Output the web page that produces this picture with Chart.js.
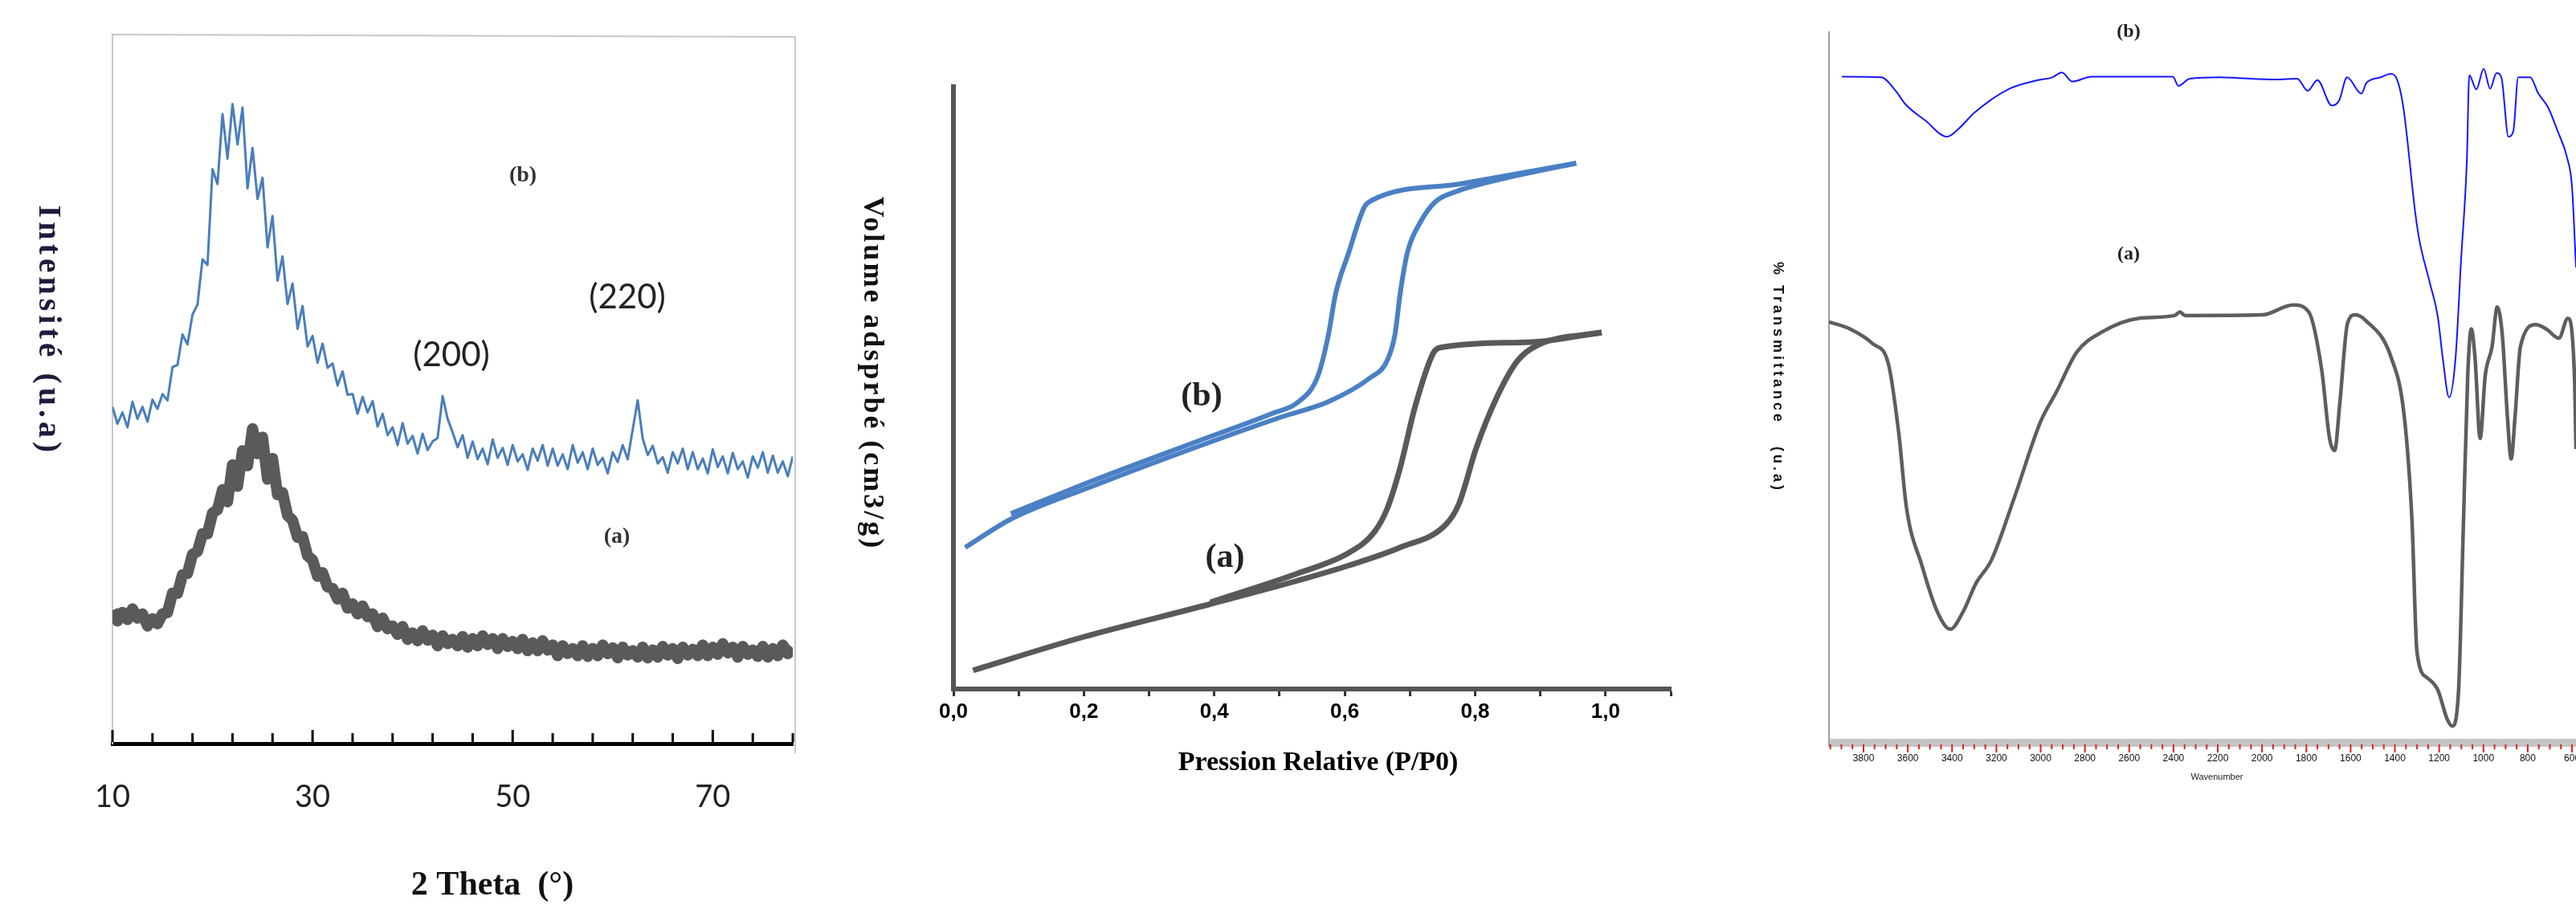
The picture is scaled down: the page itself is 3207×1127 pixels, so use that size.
<!DOCTYPE html>
<html>
<head>
<meta charset="utf-8">
<script src="https://cdn.jsdelivr.net/npm/chart.js@4.4.1/dist/chart.umd.min.js"></script>
<style>
  body { margin: 0; background: #fff; width: 3207px; height: 1127px; overflow: hidden; position: relative; }
  canvas { position: absolute; top: 0; }
</style>
</head>
<body>
<canvas id="xrd" width="1040" height="1127" style="left:0px"></canvas>
<canvas id="bet" width="1100" height="1127" style="left:1040px"></canvas>
<canvas id="ftir" width="1067" height="1127" style="left:2140px"></canvas>
<script>
// ---- XRD (2 theta) ----
const xrdTheta = [10,10.5,11,11.5,12,12.5,13,13.5,14,14.5,15,15.5,16,16.5,17,17.5,18,18.5,19,19.5,
  20,20.5,21,21.5,22,22.5,23,23.5,24,24.5,25,25.5,26,26.5,27,27.5,28,28.5,29,29.5,
  30,30.5,31,31.5,32,32.5,33,33.5,34,34.5,35,35.5,36,36.5,37,37.5,38,38.5,39,39.5,
  40,40.5,41,41.5,42,42.5,43,43.5,44,44.5,45,45.5,46,46.5,47,47.5,48,48.5,49,49.5,
  50,50.5,51,51.5,52,52.5,53,53.5,54,54.5,55,55.5,56,56.5,57,57.5,58,58.5,59,59.5,
  60,60.5,61,61.5,62,62.5,63,63.5,64,64.5,65,65.5,66,66.5,67,67.5,68,68.5,69,69.5,
  70,70.5,71,71.5,72,72.5,73,73.5,74,74.5,75,75.5,76,76.5,77,77.5,78];
const xrdSampleB = [47.5,45.1,46.7,44.6,48.2,45.8,47.5,45.4,48.5,47.2,
  49.3,48.4,53.1,53.4,57.7,56.3,60.5,61.9,68.3,67.5,
  81.0,78.9,88.8,82.5,90.2,84.5,89.7,78.3,84.0,76.8,
  79.8,70.0,74.4,65.3,68.7,62.0,64.9,58.5,61.7,56.0,
  57.5,53.7,56.4,53.0,53.6,50.5,52.5,49.2,49.3,46.5,
  48.9,46.7,48.3,44.7,46.5,43.5,44.6,42.1,45.2,42.3,
  43.4,40.9,43.7,41.4,42.6,43.1,49.0,45.8,43.9,41.8,
  43.5,40.3,42.6,40.1,41.6,39.4,42.9,40.3,41.7,39.3,
  42.1,39.8,40.8,38.6,41.6,39.9,42.1,39.2,41.6,39.2,
  40.8,38.7,42.1,39.6,41.1,38.7,41.6,39.3,40.3,38.1,
  41.1,39.7,42.1,40.1,44.3,48.4,43.0,40.7,42.0,39.5,
  40.4,38.2,41.1,39.5,41.6,38.7,41.1,38.7,40.2,38.1,
  41.5,39.0,40.5,38.1,41.0,38.7,39.8,37.5,40.5,38.9,
  41.1,38.2,40.6,38.2,39.8,37.7,40.5];
const xrdSampleA = [18.8,17.3,18.5,17.5,19.0,17.7,18.3,16.6,17.6,16.9,
  18.3,18.5,21.2,21.2,23.8,24.0,26.7,27.1,29.6,29.6,
  32.5,33.0,35.8,34.1,39.3,36.3,41.3,39.2,44.4,40.9,
  43.2,37.3,40.2,35.1,35.4,32.2,31.5,29.1,29.2,26.5,
  25.9,23.6,24.1,22.1,21.9,20.4,21.2,19.1,19.7,18.3,
  19.4,17.9,18.3,16.5,17.7,16.2,16.6,15.4,16.5,14.7,
  15.6,14.5,15.9,14.6,15.3,13.8,15.2,14.1,14.7,13.8,
  15.1,13.6,14.8,13.8,15.2,14.0,14.8,13.4,14.8,13.7,
  14.4,13.4,14.7,13.1,14.2,13.1,14.5,13.2,13.9,12.4,
  13.8,12.7,13.4,12.4,13.8,12.3,13.4,12.4,13.9,12.7,
  13.5,12.1,13.6,12.5,13.1,12.2,13.6,12.1,13.2,12.2,
  13.7,12.5,13.4,12.0,13.6,12.5,13.3,12.4,13.9,12.4,
  13.6,12.6,14.1,12.8,13.6,12.2,13.7,12.6,13.2,12.3,
  13.7,12.2,13.4,12.4,13.9,12.7,13.5];
const xrdTicks = [10,14,18,22,26,30,34,38,42,46,50,54,58,62,66,70,74,78];
const xrdTickLabels = [10,30,50,70];

// ---- BET isotherms (P/P0, volume) ----
const betAdsP_b = [0.018,0.088,0.214,0.371,0.504,0.575,0.638,0.665,0.677,0.685,0.696,0.716,0.739,0.771,0.841,0.955];
const betAdsV_b = [23.5,28.2,33.7,40.1,45.2,47.7,51.6,54.5,58.8,65.6,72.4,77.5,80.9,82.6,84.7,87.3];
const betDesP_b = [0.088,0.214,0.371,0.490,0.528,0.559,0.575,0.586,0.606,0.630,0.641,0.779,0.955];
const betDesV_b = [29.1,34.6,41.0,45.8,47.6,52.0,58.8,65.6,72.4,80.0,81.1,83.9,87.3];
const betAdsP_a = [0.030,0.198,0.394,0.528,0.606,0.685,0.755,0.775,0.802,0.834,0.865,0.896,0.994];
const betAdsV_a = [3.1,8.6,14.1,18.0,20.5,23.5,27.3,30.7,40.1,48.6,54.5,57.1,59.2];
const betDesP_a = [0.394,0.528,0.606,0.645,0.665,0.685,0.708,0.736,0.747,0.886,0.994];
const betDesV_a = [14.4,19.2,22.6,26.0,29.9,36.7,46.9,55.8,56.7,57.6,59.2];
const betTicks = [0,0.1,0.2,0.3,0.4,0.5,0.6,0.7,0.8,0.9,1.0,1.1];
const betLabelValues = [0,0.2,0.4,0.6,0.8,1.0];
const betLabelText = ['0,0','0,2','0,4','0,6','0,8','1,0'];

// ---- FTIR (wavenumber, transmittance) ----
const ftirWaveB = [3898,3720,3655,3611,3521,3423,3368,3299,3147,3013,2947,2904,2857,2770,2403,2378,2327,2193,2106,1939,
  1841,1794,1750,1685,1652,1616,1551,1529,1464,1420,1395,1362,1307,1289,1242,1206,1184,1155,1126,1101,
  1075,1064,1032,999,970,941,919,887,865,843,789,752,709,665,622,600,582];
const ftirTransB = [93.7,93.6,91.7,89.8,87.5,85.2,86.4,88.6,91.9,93.2,93.6,94.3,93.0,93.7,93.7,92.4,93.4,93.6,93.5,93.3,
  93.4,91.7,93.2,89.6,90.3,93.6,91.3,92.8,93.6,94.1,93.6,89.4,74.2,70.5,64.5,59.7,53.9,48.3,53.9,67.8,
  81.8,93.9,91.9,94.8,92.0,94.2,93.6,85.2,86.0,93.6,93.6,91.3,89.4,86.0,82.2,78.1,66.7];
const ftirWaveA = [3956,3862,3758,3688,3641,3606,3536,3467,3408,3350,3292,3222,3117,3000,2930,2837,2721,2558,2394,2371,
  2348,1998,1859,1789,1731,1695,1672,1649,1614,1579,1532,1416,1358,1323,1300,1253,1206,1164,1141,1113,
  1090,1071,1055,1038,1015,992,961,938,915,892,875,857,833,763,717,659,619,589,582];
const ftirTransA = [59.0,58.0,55.9,53.1,43.3,32.7,24.5,18.0,15.5,18.0,22.0,25.3,34.3,44.9,49.0,54.7,57.6,59.5,59.9,60.4,
  59.9,60.0,61.4,60.4,52.3,42.5,40.8,47.4,58.8,60.0,59.2,53.9,45.7,31.0,12.2,8.6,6.9,2.8,1.8,6.5,
  31.0,51.4,58.0,53.9,42.5,51.4,55.5,61.1,57.2,45.7,39.6,45.7,55.5,58.6,58.0,56.7,59.5,51.4,41.0];
const ftirTicks = [3800,3600,3400,3200,3000,2800,2600,2400,2200,2000,1800,1600,1400,1200,1000,800,600];

const SERIF = '"Liberation Serif", "DejaVu Serif", serif';
const SANS = 'Lato, "Liberation Sans", sans-serif';

function pairs(xs, ys) {
    return xs.map((x, i) => ({ x: x, y: ys[i] }));
}

// text drawn on top of a chart (labels, rotated axis titles)
function makeNotes(items) {
    return {
        id: 'notes',
        afterDraw(chart) {
            const ctx = chart.ctx;
            items.forEach((n) => {
                ctx.save();
                ctx.translate(n.x, n.y);
                if (n.rot) ctx.rotate(n.rot * Math.PI / 180);
                ctx.font = n.font;
                ctx.fillStyle = n.color || '#000';
                ctx.letterSpacing = n.spacing || '0px';
                ctx.textAlign = 'center';
                ctx.textBaseline = 'middle';
                ctx.fillText(n.text, 0, 0);
                ctx.restore();
            });
        }
    };
}

function hiddenY(borderColor, borderWidth) {
    return {
        min: 0, max: 100,
        afterFit: (s) => { s.width = 0; },
        grid: { drawOnChartArea: false, drawTicks: false },
        border: { color: borderColor, width: borderWidth },
        ticks: { display: false }
    };
}

const baseOptions = {
    responsive: false,
    animation: false,
    devicePixelRatio: 1,
    plugins: { legend: { display: false }, tooltip: { enabled: false } }
};

// ---------- chart 1 : XRD ----------
const xrdFrame = {
    id: 'xrdFrame',
    afterDraw(chart) {
        const ctx = chart.ctx, a = chart.chartArea, xs = chart.scales.x;
        ctx.save();
        ctx.strokeStyle = '#c8c8c8';
        ctx.lineWidth = 2;
        ctx.beginPath();
        ctx.moveTo(a.left, a.top);
        ctx.lineTo(a.right + 3, a.top + 3);
        ctx.lineTo(a.right + 3, a.bottom + 12);
        ctx.stroke();
        // ticks point inward
        ctx.strokeStyle = '#000';
        ctx.lineWidth = 3;
        xs.ticks.forEach((t) => {
            const px = xs.getPixelForValue(t.value);
            const len = xrdTickLabels.includes(t.value) ? 17 : 13;
            ctx.beginPath();
            ctx.moveTo(px, a.bottom - 2);
            ctx.lineTo(px, a.bottom - len);
            ctx.stroke();
        });
        ctx.restore();
    }
};

new Chart(document.getElementById('xrd'), {
    type: 'scatter',
    data: {
        datasets: [
            { data: pairs(xrdTheta, xrdSampleB), showLine: true, borderColor: '#4a7ebb', borderWidth: 3, borderJoinStyle: 'round', pointRadius: 0, tension: 0 },
            { data: pairs(xrdTheta, xrdSampleA), showLine: true, borderColor: '#5a5a5a', borderWidth: 14, borderJoinStyle: 'round', pointRadius: 0, tension: 0 }
        ]
    },
    options: Object.assign({}, baseOptions, {
        layout: { padding: { left: 140, top: 43, right: 53, bottom: 0 } },
        scales: {
            x: {
                type: 'linear', min: 10, max: 78,
                afterBuildTicks: (s) => { s.ticks = xrdTicks.map((v) => ({ value: v })); },
                afterFit: (s) => { s.height = 201; s.paddingLeft = 0; s.paddingRight = 0; },
                grid: { drawOnChartArea: false, drawTicks: false },
                border: { color: '#000', width: 5 },
                ticks: {
                    autoSkip: false, maxRotation: 0, padding: 44, color: '#222',
                    font: { family: SANS, size: 38 },
                    callback: (v) => xrdTickLabels.includes(v) ? String(v) : ''
                }
            },
            y: hiddenY('#c8c8c8', 2)
        }
    }),
    plugins: [xrdFrame, makeNotes([
        { text: '(b)', x: 651, y: 219, font: 'bold 28px ' + SERIF, color: '#333' },
        { text: '(200)', x: 562, y: 442, font: '42px ' + SANS, color: '#222' },
        { text: '(220)', x: 781, y: 370, font: '42px ' + SANS, color: '#222' },
        { text: '(a)', x: 768, y: 669, font: 'bold 28px ' + SERIF, color: '#333' },
        { text: 'Intensité (u.a)', x: 59, y: 412, rot: 90, font: 'bold 40px ' + SERIF, color: '#1c1c3c', spacing: '5px' },
        { text: '2 Theta  (°)', x: 613, y: 1103, font: 'bold 42px ' + SERIF, color: '#111' }
    ])]
});

// ---------- chart 2 : BET ----------
function betLine(xs, ys, color, width) {
    return { data: pairs(xs, ys), showLine: true, borderColor: color, borderWidth: width, pointRadius: 0, cubicInterpolationMode: 'monotone' };
}

new Chart(document.getElementById('bet'), {
    type: 'scatter',
    data: {
        datasets: [
            betLine(betAdsP_b, betAdsV_b, '#4a80c4', 6),
            betLine(betDesP_b, betDesV_b, '#4a80c4', 6),
            betLine(betAdsP_a, betAdsV_a, '#595959', 7),
            betLine(betDesP_a, betDesV_a, '#595959', 7)
        ]
    },
    options: Object.assign({}, baseOptions, {
        layout: { padding: { left: 147, top: 108, right: 60, bottom: 0 } },
        scales: {
            x: {
                type: 'linear', min: 0, max: 1.1,
                afterBuildTicks: (s) => { s.ticks = betTicks.map((v) => ({ value: v })); },
                afterFit: (s) => { s.height = 269; s.paddingLeft = 0; s.paddingRight = 0; },
                grid: { drawOnChartArea: false, drawTicks: true, tickLength: 9, tickWidth: 3, tickColor: '#333' },
                border: { color: '#555', width: 6 },
                ticks: {
                    autoSkip: false, maxRotation: 0, padding: 4, color: '#000',
                    font: { family: '"Liberation Sans", Arial, sans-serif', size: 26, weight: 'bold' },
                    callback: (v) => {
                        const i = betLabelValues.findIndex((b) => Math.abs(b - v) < 1e-6);
                        return i >= 0 ? betLabelText[i] : '';
                    }
                }
            },
            y: hiddenY('#555', 6)
        }
    }),
    plugins: [makeNotes([
        { text: '(b)', x: 456, y: 494, font: 'bold 42px ' + SERIF, color: '#222' },
        { text: '(a)', x: 485, y: 695, font: 'bold 42px ' + SERIF, color: '#222' },
        { text: 'Volume adsprbé (cm3/g)', x: 45, y: 465, rot: 90, font: 'bold 36px ' + SERIF, color: '#111', spacing: '3px' },
        { text: 'Pression Relative (P/P0)', x: 601, y: 950, font: 'bold 34px ' + SERIF, color: '#000' }
    ])]
});

// ---------- chart 3 : FTIR ----------
const ftirBand = {
    id: 'ftirBand',
    afterDraw(chart) {
        const ctx = chart.ctx, a = chart.chartArea, xs = chart.scales.x;
        ctx.save();
        ctx.fillStyle = '#c4c4c4';
        ctx.fillRect(a.left, a.bottom, a.right - a.left, 10);
        ctx.strokeStyle = '#a0a0a0';
        ctx.lineWidth = 2;
        ctx.beginPath();
        ctx.moveTo(a.left, a.bottom);
        ctx.lineTo(a.left, a.bottom + 10);
        ctx.stroke();
        ctx.strokeStyle = '#e02020';
        for (let v = Math.ceil(xs.min / 50) * 50; v <= xs.max; v += 50) {
            const px = xs.getPixelForValue(v);
            ctx.beginPath();
            ctx.moveTo(px, a.bottom + 7);
            ctx.lineTo(px, a.bottom + (v % 200 === 0 ? 17 : 13));
            ctx.stroke();
        }
        ctx.restore();
    }
};

new Chart(document.getElementById('ftir'), {
    type: 'scatter',
    data: {
        datasets: [
            { data: pairs(ftirWaveB, ftirTransB), showLine: true, borderColor: '#1616ff', borderWidth: 2, pointRadius: 0, cubicInterpolationMode: 'monotone' },
            { data: pairs(ftirWaveA, ftirTransA), showLine: true, borderColor: '#5e5e5e', borderWidth: 4.5, pointRadius: 0, cubicInterpolationMode: 'monotone' }
        ]
    },
    options: Object.assign({}, baseOptions, {
        layout: { padding: { left: 137, top: 40, right: 0, bottom: 0 } },
        scales: {
            x: {
                type: 'linear', min: 582, max: 3956, reverse: true,
                afterBuildTicks: (s) => { s.ticks = ftirTicks.map((v) => ({ value: v })); },
                afterFit: (s) => { s.height = 207; s.paddingLeft = 0; s.paddingRight = 0; },
                grid: { drawOnChartArea: false, drawTicks: false },
                border: { display: false },
                ticks: {
                    autoSkip: false, maxRotation: 0, padding: 17, color: '#111',
                    font: { family: '"Liberation Sans Narrow", "Liberation Sans", sans-serif', size: 12 },
                    callback: (v) => String(v)
                }
            },
            y: hiddenY('#a0a0a0', 2)
        }
    }),
    plugins: [ftirBand, makeNotes([
        { text: '(b)', x: 510, y: 40, font: 'bold 24px ' + SERIF, color: '#222' },
        { text: '(a)', x: 510, y: 317, font: 'bold 24px ' + SERIF, color: '#222' },
        { text: '% Transmittance   (u.a)', x: 73, y: 470, rot: 90, font: 'bold 18px "Liberation Sans", sans-serif', color: '#111', spacing: '4px' },
        { text: 'Wavenumber', x: 620, y: 968, font: '11px "Liberation Sans", sans-serif', color: '#222' }
    ])]
});
</script>
</body>
</html>
